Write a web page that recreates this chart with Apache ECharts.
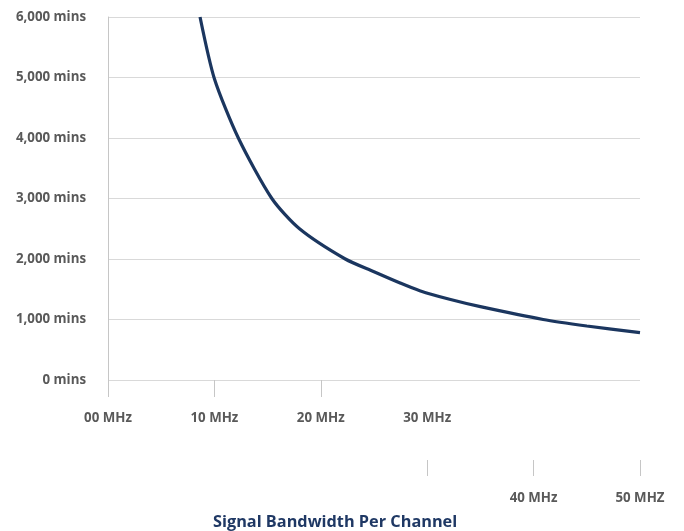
<!DOCTYPE html>
<html>
<head>
<meta charset="utf-8">
<script src="https://cdn.jsdelivr.net/npm/echarts@6/dist/echarts.min.js"></script>
<style>
  html, body { margin: 0; padding: 0; background: #fff; }
  #chart { width: 684px; height: 531px; }
</style>
</head>
<body>
<div id="chart"></div>
<script>
// Recording time (minutes) against signal bandwidth per channel (MHz)
const bandwidthMHz = [8.65, 10, 12.25, 15.4, 18, 22.3, 25, 27.4, 29.3, 32.1, 35, 40.9, 45, 50];
const minutes      = [6000, 4980, 4000, 3000, 2500, 2000, 1790, 1608, 1476, 1334, 1212, 1000, 893, 782];

// Axis tick labels
const xTickValues = [0, 10, 20, 30, 40, 50];
const xTickLabels = ['00 MHz', '10 MHz', '20 MHz', '30 MHz', '40 MHz', '50 MHZ'];

const chartTitle = 'Signal Bandwidth Per Channel';

const labelFont = {
  fontFamily: 'Open Sans',
  fontWeight: 'bold',
  fontSize: 13.3,
  color: '#595959'
};
const axisGray = '#c6c6c6';

function xLabel(v) {
  const i = xTickValues.indexOf(v);
  return i >= 0 ? xTickLabels[i] : '';
}

const points = bandwidthMHz.map((x, i) => [x, minutes[i]]);

const chart = echarts.init(document.getElementById('chart'), null, { renderer: 'canvas' });
chart.setOption({
  animation: false,
  backgroundColor: '#ffffff',
  title: {
    text: chartTitle,
    left: 208,
    top: 509,
    textStyle: {
      fontFamily: 'Open Sans',
      fontWeight: 'bold',
      fontSize: 16.3,
      color: '#1f3864'
    }
  },
  grid: { left: 108, right: 44, top: 17, bottom: 151, containLabel: false },
  xAxis: [
    {
      type: 'value',
      min: 0, max: 50, interval: 10,
      position: 'bottom',
      axisLine: { show: false },
      splitLine: { show: false },
      axisTick: {
        show: true, length: 17,
        customValues: [0, 10, 20],
        lineStyle: { color: axisGray, width: 1 }
      },
      axisLabel: Object.assign({
        margin: 32,
        customValues: [0, 10, 20, 30],
        formatter: xLabel
      }, labelFont)
    },
    {
      type: 'value',
      min: 0, max: 50, interval: 10,
      position: 'bottom',
      offset: 80,
      axisLine: { show: false },
      splitLine: { show: false },
      axisTick: {
        show: true, length: 16,
        customValues: [30, 40, 50],
        lineStyle: { color: axisGray, width: 1 }
      },
      axisLabel: Object.assign({
        margin: 32,
        customValues: [40, 50],
        formatter: xLabel
      }, labelFont)
    }
  ],
  yAxis: {
    type: 'value',
    min: 0, max: 6000, interval: 1000,
    axisLine: { show: true, lineStyle: { color: axisGray, width: 1 } },
    axisTick: { show: false },
    splitLine: { show: true, lineStyle: { color: '#d9d9d9', width: 1 } },
    axisLabel: Object.assign({
      margin: 22,
      formatter: v => v.toLocaleString('en-US') + ' mins'
    }, labelFont)
  },
  series: [
    {
      type: 'line',
      xAxisIndex: 0,
      data: points,
      smooth: 0.25,
      showSymbol: false,
      lineStyle: { color: '#1b365f', width: 3.2 },
      clip: false
    }
  ]
});
</script>
</body>
</html>
